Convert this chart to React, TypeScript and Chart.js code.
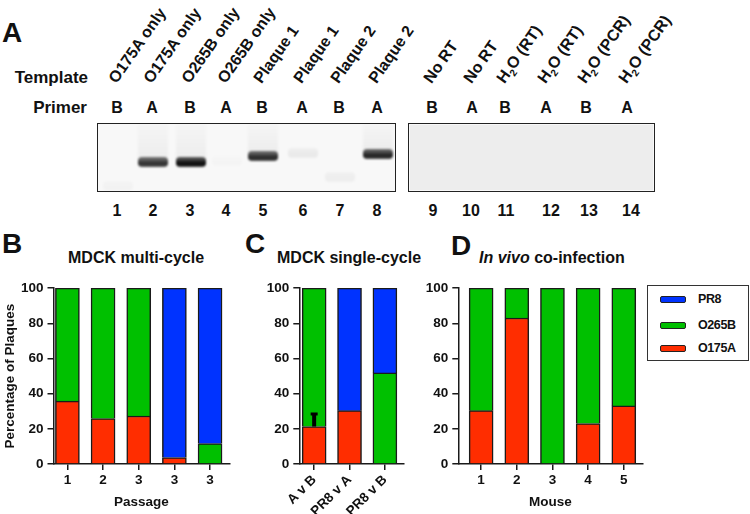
import React, { useEffect, useRef } from 'react';
import { Chart, registerables } from 'chart.js';

Chart.register(...registerables);

const FONT = "'Liberation Sans', Arial, Helvetica, sans-serif";
Chart.defaults.font.family = FONT;

// ---------- Panel A data ----------
const templateLabels = [
  'O175A only', 'O175A only', 'O265B only', 'O265B only',
  'Plaque 1', 'Plaque 1', 'Plaque 2', 'Plaque 2',
  'No RT', 'No RT', 'H2O (RT)', 'H2O (RT)', 'H2O (PCR)', 'H2O (PCR)',
];
const primerLabels = ['B', 'A', 'B', 'A', 'B', 'A', 'B', 'A', 'B', 'A', 'B', 'A', 'B', 'A'];
const laneNumbers = ['1', '2', '3', '4', '5', '6', '7', '8', '9', '10', '11', '12', '13', '14'];
const bandIntensity = [0.025, 0.82, 0.97, 0.015, 0.85, 0.06, 0.045, 0.88, 0, 0, 0, 0, 0, 0];

// ---------- Series ----------
const seriesNames = ['O175A', 'O265B', 'PR8'];
const seriesColors = ['#FF2D00', '#00C000', '#0033FF'];

// Panel B: MDCK multi-cycle
const bCategories = ['1', '2', '3', '3', '3'];
const bO175A = [35.7, 25.8, 27.3, 3.7, 0];
const bO265B = [64.3, 74.2, 72.7, 0, 11.6];
const bPR8 = [0, 0, 0, 96.3, 88.4];

// Panel C: MDCK single-cycle
const cCategories = ['A v B', 'PR8 v A', 'PR8 v B'];
const cO175A = [21.3, 30.3, 0];
const cO265B = [78.7, 0, 51.8];
const cPR8 = [0, 69.7, 48.2];
const cO175AErrorTop = [29, null, null];

// Panel D: In vivo co-infection
const dCategories = ['1', '2', '3', '4', '5'];
const dO175A = [30.3, 83, 0, 23, 33];
const dO265B = [69.7, 17, 100, 77, 67];
const dPR8 = [0, 0, 0, 0, 0];

// ---------- layout (positions only) ----------
const laneX = [117, 152, 190, 226, 262, 302, 339, 377, 432, 472, 505, 546, 586, 627];
const laneNumX = [117, 153, 190, 226, 263, 303, 340, 377, 433, 471, 506, 551, 589, 631];
const bandY = [185, 161, 160.5, 160, 155, 152, 176, 153, 160, 160, 160, 160, 160, 160];

const AXIS = '#1a1a1a';

const errorBarPlugin = {
  id: 'errBar',
  afterDatasetsDraw(chart: any, _args: any, opts: any) {
    const tops = opts && opts.tops;
    const means = opts && opts.means;
    if (!tops) return;
    const meta = chart.getDatasetMeta(0);
    const ys = chart.scales.y;
    const ctx = chart.ctx;
    tops.forEach((t: number | null, i: number) => {
      if (t == null) return;
      const el = meta.data[i];
      if (!el) return;
      const x = el.x;
      const y1 = ys.getPixelForValue(means[i]);
      const y2 = ys.getPixelForValue(t);
      ctx.save();
      ctx.strokeStyle = '#000';
      ctx.lineWidth = 4;
      ctx.beginPath();
      ctx.moveTo(x, y1);
      ctx.lineTo(x, y2);
      ctx.stroke();
      ctx.lineWidth = 3;
      ctx.beginPath();
      ctx.moveTo(x - 3.5, y2 + 1);
      ctx.lineTo(x + 3.5, y2 + 1);
      ctx.stroke();
      ctx.restore();
    });
  },
};

type PanelProps = {
  left: number; top: number; width: number; height: number;
  categories: string[];
  o175a: number[]; o265b: number[]; pr8: number[];
  xMin: number; xMax: number;
  yAxisWidth: number; xAxisHeight: number; padTop: number; padRight: number;
  yTitle?: string; xTitle?: string; rot?: number;
  errTops?: (number | null)[];
};

function BarPanel(p: PanelProps) {
  const ref = useRef<HTMLCanvasElement>(null);
  useEffect(() => {
    const series = [p.o175a, p.o265b, p.pr8];
    const rot = p.rot || 0;
    const tickFont = { size: 13.5, weight: 'bold' };
    const chart = new Chart(ref.current as HTMLCanvasElement, {
      type: 'bar',
      data: {
        datasets: series.map((vals, si) => ({
          label: seriesNames[si],
          data: vals.map((v, i) => ({ x: i, y: v > 0 ? v : null })),
          backgroundColor: seriesColors[si],
          borderColor: AXIS,
          borderWidth: 1.5,
          borderSkipped: 'start',
          barThickness: 24,
        })),
      } as any,
      options: {
        responsive: false,
        animation: false,
        devicePixelRatio: 1,
        layout: { padding: { top: p.padTop, right: p.padRight, left: 0, bottom: 0 } },
        plugins: {
          legend: { display: false },
          tooltip: { enabled: false },
          errBar: p.errTops ? { tops: p.errTops, means: p.o175a } : {},
        } as any,
        scales: {
          x: {
            type: 'linear',
            stacked: true,
            offset: false,
            min: p.xMin,
            max: p.xMax,
            afterBuildTicks: (s: any) => {
              s.ticks = p.categories.map((_, i) => ({ value: i }));
            },
            afterFit: (s: any) => {
              s.height = p.xAxisHeight;
            },
            ticks: {
              callback: (v: any) => p.categories[v] ?? '',
              autoSkip: false,
              maxRotation: rot,
              minRotation: rot,
              color: '#111',
              font: tickFont,
              padding: 2,
            },
            grid: { offset: false, drawOnChartArea: false, drawTicks: true, tickLength: 6, color: AXIS, lineWidth: 1.5 },
            border: { color: AXIS, width: 1.5 },
            title: p.xTitle
              ? { display: true, text: p.xTitle, color: '#111', font: { size: 13.5, weight: 'bold' }, padding: { top: 0, bottom: 4 } }
              : { display: false },
          },
          y: {
            stacked: true,
            min: 0,
            max: 100,
            afterFit: (s: any) => {
              s.width = p.yAxisWidth;
            },
            ticks: { stepSize: 20, color: '#111', font: tickFont, padding: 4 },
            grid: { drawOnChartArea: false, drawTicks: true, tickLength: 6, color: AXIS, lineWidth: 1.5 },
            border: { color: AXIS, width: 1.5 },
            title: p.yTitle
              ? { display: true, text: p.yTitle, color: '#111', font: { size: 13.5, weight: 'bold' }, padding: { top: 2, bottom: 0 } }
              : { display: false },
          },
        },
      } as any,
      plugins: [errorBarPlugin],
    });
    return () => chart.destroy();
  }, []);
  return (
    <canvas
      ref={ref}
      width={p.width}
      height={p.height}
      style={{ position: 'absolute', left: p.left, top: p.top, width: p.width, height: p.height }}
    />
  );
}

function renderLabel(s: string) {
  if (s.startsWith('H2O')) {
    return (
      <>
        H<span style={{ fontSize: 10, position: 'relative', top: 4 }}>2</span>
        {s.slice(2)}
      </>
    );
  }
  return s;
}

function abs(left: number, top: number, extra: React.CSSProperties = {}): React.CSSProperties {
  return { position: 'absolute', left, top, lineHeight: 1, whiteSpace: 'nowrap', ...extra };
}

export default function App() {
  const legendItems = seriesNames.map((n, i) => ({ n, c: seriesColors[i] })).reverse();
  return (
    <div
      style={{
        position: 'absolute', left: 0, top: 0, width: 750, height: 514, background: '#fff',
        fontFamily: FONT, color: '#111', overflow: 'hidden',
      }}
    >
      {/* Panel A */}
      <div style={abs(2, 19, { fontSize: 28, fontWeight: 'bold' })}>A</div>
      <div style={abs(0, 69, { width: 88, textAlign: 'right', fontSize: 17, fontWeight: 'bold' })}>Template</div>
      <div style={abs(0, 99, { width: 87, textAlign: 'right', fontSize: 17, fontWeight: 'bold' })}>Primer</div>
      {templateLabels.map((t, i) => (
        <div
          key={'t' + i}
          style={abs(laneX[i] + 2, 86 - 16, {
            height: 16, fontSize: 16, fontWeight: 'bold',
            transform: 'rotate(-55deg)', transformOrigin: '0 100%',
          })}
        >
          {renderLabel(t)}
        </div>
      ))}
      {primerLabels.map((t, i) => (
        <div key={'p' + i} style={abs(laneX[i] - 15, 99.5, { width: 30, textAlign: 'center', fontSize: 16, fontWeight: 'bold' })}>
          {t}
        </div>
      ))}
      {laneNumbers.map((t, i) => (
        <div key={'n' + i} style={abs(laneNumX[i] - 15, 202.7, { width: 30, textAlign: 'center', fontSize: 16, fontWeight: 'bold' })}>
          {t}
        </div>
      ))}
      {/* gels */}
      <div style={{ position: 'absolute', left: 97, top: 123, width: 297, height: 67, border: '1.5px solid #222', background: '#f8f8f8', overflow: 'hidden' }}>
        {bandIntensity.slice(0, 8).map((a, i) =>
          a > 0 ? (
            <React.Fragment key={'b' + i}>
              {a > 0.5 && (
                <div style={{
                  position: 'absolute', left: laneX[i] - 97 - 15, top: 0, width: 30, height: bandY[i] - 123 - 4,
                  background: 'linear-gradient(to bottom, rgba(0,0,0,0.012), rgba(0,0,0,0.045))', filter: 'blur(1.5px)',
                }} />
              )}
              <div style={{
                position: 'absolute', left: laneX[i] - 97 - 15, top: bandY[i] - 123 - 5, width: 30, height: 10,
                borderRadius: 4,
                background: `linear-gradient(to bottom, rgba(0,0,0,${a * 0.6}), rgba(0,0,0,${a}) 65%, rgba(0,0,0,${a * 0.8}))`,
                filter: 'blur(1.2px)',
              }} />
            </React.Fragment>
          ) : null,
        )}
      </div>
      <div style={{ position: 'absolute', left: 408, top: 123, width: 245, height: 67, border: '1.5px solid #222', background: '#ededed', boxShadow: 'inset 0 0 0 1px #f8f8f8' }} />

      {/* Panel titles */}
      <div style={abs(2, 230, { fontSize: 28, fontWeight: 'bold' })}>B</div>
      <div style={abs(68, 249.7, { fontSize: 16, fontWeight: 'bold' })}>MDCK multi-cycle</div>
      <div style={abs(245, 230, { fontSize: 28, fontWeight: 'bold' })}>C</div>
      <div style={abs(277, 249.7, { fontSize: 16, fontWeight: 'bold' })}>MDCK single-cycle</div>
      <div style={abs(451, 232, { fontSize: 28, fontWeight: 'bold' })}>D</div>
      <div style={abs(479, 249.7, { fontSize: 16, fontWeight: 'bold' })}>
        <i>In vivo</i> co-infection
      </div>

      <BarPanel
        left={0} top={276} width={236} height={238}
        categories={bCategories} o175a={bO175A} o265b={bO265B} pr8={bPR8}
        xMin={-0.39} xMax={4.54} yAxisWidth={53.5} xAxisHeight={50} padTop={10} padRight={6.7}
        yTitle="Percentage of Plaques" xTitle="Passage"
      />
      <BarPanel
        left={250} top={276} width={160} height={238}
        categories={cCategories} o175a={cO175A} o265b={cO265B} pr8={cPR8}
        xMin={-0.42} xMax={2.54} yAxisWidth={49.3} xAxisHeight={50} padTop={10} padRight={6}
        rot={45} errTops={cO175AErrorTop}
      />
      <BarPanel
        left={400} top={276} width={250} height={238}
        categories={dCategories} o175a={dO175A} o265b={dO265B} pr8={dPR8}
        xMin={-0.64} xMax={4.53} yAxisWidth={58.3} xAxisHeight={50} padTop={10} padRight={7.3}
        xTitle="Mouse"
      />

      {/* Legend */}
      <div style={{ position: 'absolute', left: 647, top: 285, width: 100, height: 74, border: '1.5px solid #333', background: '#fff' }}>
        {legendItems.map((it, i) => (
          <div key={it.n} style={{ position: 'absolute', left: 0, top: [13, 39, 62][i] - 8, height: 16, width: 100 }}>
            <div style={{ position: 'absolute', left: 12, top: 5, width: 24, height: 5, background: it.c, border: '1px solid #222', borderRadius: 2 }} />
            <div style={{ position: 'absolute', left: 50, top: 2, fontSize: 12.5, fontWeight: 'bold', letterSpacing: -0.4, lineHeight: 1 }}>{it.n}</div>
          </div>
        ))}
      </div>
    </div>
  );
}
